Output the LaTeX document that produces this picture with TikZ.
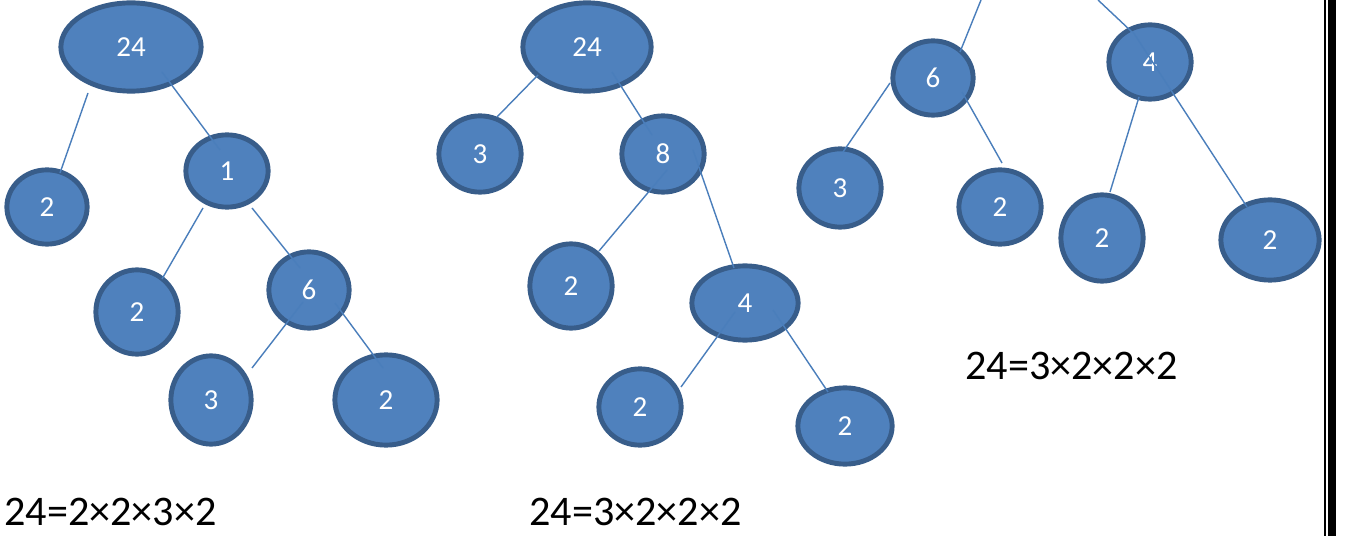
\documentclass[tikz,border=0pt]{standalone}
\usepackage{fontspec}
\setmainfont{Carlito}
\usetikzlibrary{shapes.geometric,calc}
\definecolor{bfill}{HTML}{4F81BD}
\definecolor{bdraw}{HTML}{385D8A}
\definecolor{bline}{HTML}{4A7EBB}
\tikzset{
  bn/.style 2 args={ellipse, fill=bfill, draw=bdraw, line width=2.8pt, inner sep=0pt,
    minimum width=#1*0.02cm-1pt, minimum height=#2*0.02cm-1pt, text=white,
    font=\fontsize{16.5}{18}\selectfont},
  conn/.style={draw=bline, line width=0.8pt},
  eqn/.style={anchor=base west, inner sep=0pt, font=\fontsize{24}{28}\selectfont, text=black}
}
\begin{document}
\begin{tikzpicture}[x=0.02cm,y=-0.02cm]
\useasboundingbox (0,0) rectangle (1351,536);
\fill[white] (0,0) rectangle (1351,536);
% ---------- tree 1
\node[bn={142}{90}] (a24) at (131,47) {24};
\node[bn={82}{76}]  (a2)  at (47,207) {2};
\node[bn={84}{74}]  (a1)  at (227,171) {1};
\node[bn={84}{86}]  (a2m) at (137,312) {2};
\node[bn={82}{78}]  (a6)  at (309,290) {6};
\node[bn={82}{90}]  (a3)  at (211,400) {3};
\node[bn={104}{92}] (a2r) at (386,400) {2};
\draw[conn] ($(a24)+(-43,46)$) -- ($(a2)+(13,-34)$);
\draw[conn] ($(a24)+(31,25)$) -- ($(a1)+(-7,-21)$);
\draw[conn] ($(a1)+(-24,37)$) -- ($(a2m)+(25,-33)$);
\draw[conn] ($(a1)+(25,37)$) -- ($(a6)+(-9,-22)$);
\draw[conn] ($(a6)+(-6,12)$) -- ($(a3)+(41,-32)$);
\draw[conn] ($(a6)+(26,13)$) -- ($(a2r)+(-3,-32)$);
\node[eqn] (t1) at (4,525) {24=2×2×3×2};
% ---------- tree 2
\node[bn={130}{90}] (b24) at (587,47) {24};
\node[bn={84}{78}]  (b3)  at (480,154) {3};
\node[bn={84}{78}]  (b8)  at (663,154) {8};
\node[bn={84}{86}]  (b2)  at (571,286) {2};
\node[bn={108}{76}] (b4)  at (745,303) {4};
\node[bn={84}{78}]  (b2l) at (640,407) {2};
\node[bn={96}{78}]  (b2r) at (845,426) {2};
\draw[conn] ($(b24)+(-49,28)$) -- ($(b3)+(17,-37)$);
\draw[conn] ($(b24)+(25,25)$) -- ($(b8)+(-11,-19)$);
\draw[conn] ($(b8)+(4,16)$) -- ($(b2)+(28,-35)$);
\draw[conn] ($(b8)+(30,-4)$) -- ($(b4)+(-11,-35)$);
\draw[conn] ($(b4)+(-10,9)$) -- ($(b2l)+(41,-20)$);
\draw[conn] ($(b4)+(28,7)$) -- ($(b2r)+(-17,-34)$);
\node[eqn] (t2) at (529,525) {24=3×2×2×2};
% ---------- tree 3
\node[bn={82}{76}]  (c6)  at (933,78) {6};
\node[bn={84}{80}]  (c3)  at (840,188) {3};
\node[bn={84}{76}]  (c2)  at (1000,207) {2};
\node[bn={84}{76}]  (c4)  at (1150,62) {4};
\node[bn={84}{88}]  (c2l) at (1102,238) {2};
\node[bn={100}{82}] (c2r) at (1270,240) {2};
\coordinate (ct1) at (981,0);
\coordinate (ct2) at (1098,0);
\draw[conn] (ct1) -- ($(c6)+(27,-26)$);
\draw[conn] (ct2) -- ($(c4)+(-18,-30)$);
\draw[conn] ($(c6)+(-43,5)$) -- ($(c3)+(3,-36)$);
\draw[conn] ($(c6)+(29,14)$) -- ($(c2)+(2,-44)$);
\draw[conn] ($(c4)+(-11,35)$) -- ($(c2l)+(8,-46)$);
\draw[conn] ($(c4)+(-17,-30)$) -- ($(c2r)+(-23,-33)$);
\node[eqn] (t3) at (965,379) {24=3×2×2×2};
% ---------- page border
\fill[black] (1324,0) rectangle (1325.5,536);
\fill[black] (1328,0) rectangle (1336,536);
\end{tikzpicture}
\end{document}
